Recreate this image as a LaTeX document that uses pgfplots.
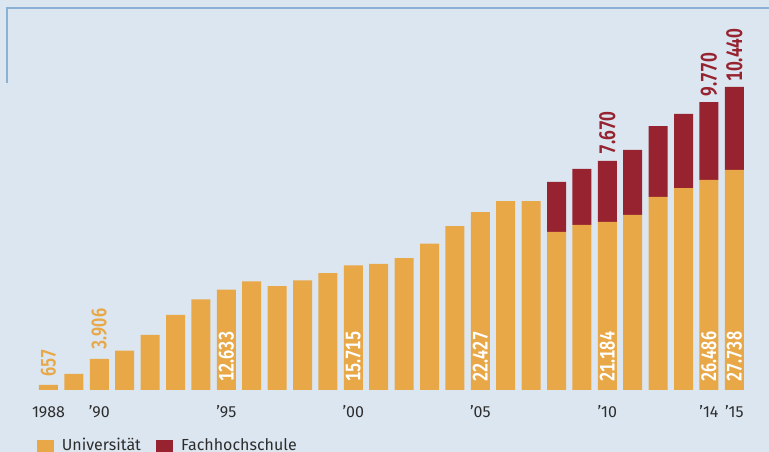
\documentclass[border=0pt]{standalone}
\usepackage{pgfplots}
\usepackage{pgfplotstable}
\pgfplotsset{compat=1.18}
\usepackage{fontspec}
\setmainfont{Fira Sans}
\newfontfamily\labfont[FakeStretch=0.78, Numbers=Monospaced, UprightFont={* SemiBold}]{Fira Sans}
\definecolor{bg}{RGB}{220,230,240}
\definecolor{uni}{RGB}{232,168,71}
\definecolor{fh}{RGB}{151,35,48}
\definecolor{framec}{RGB}{138,177,211}
\definecolor{txt}{RGB}{45,45,45}

\pgfplotstableread{
year uni fh
1988 657 0
1989 2016 0
1990 3906 0
1991 4950 0
1992 6930 0
1993 9450 0
1994 11430 0
1995 12633 0
1996 13700 0
1997 13100 0
1998 13820 0
1999 14740 0
2000 15715 0
2001 15880 0
2002 16630 0
2003 18430 0
2004 20660 0
2005 22427 0
2006 23810 0
2007 23810 0
2008 19910 6300
2009 20800 7050
2010 21184 7670
2011 22050 8190
2012 24320 8940
2013 25450 9330
2014 26486 9770
2015 27738 10440
}\datatable

\begin{document}
\begin{tikzpicture}
\begin{axis}[
  name=ax,
  scale only axis, width=769pt, height=452pt,
  xmin=1986.0906, xmax=2016.3662, ymin=-7812, ymax=49140,
  axis background/.style={fill=bg},
  axis line style={draw=none},
  ytick=\empty,
  xtick={1988,1990,1995,2000,2005,2010,2014,2015},
  xticklabels={1988,’90,’95,’00,’05,’10,’14,’15},
  major tick length=0pt,
  xticklabel style={anchor=base, yshift=34.5pt, font=\fontsize{16}{19}\selectfont, text=txt, inner sep=0pt},
  ybar stacked, bar width=0.748,
  clip=false,
]
\addplot[fill=uni, draw=none] table[x=year,y=uni]{\datatable};
\addplot[fill=fh, draw=none] table[x=year,y=fh]{\datatable};

% anchor points for the value labels
\coordinate (a88) at (axis cs:1988,657);
\coordinate (a90) at (axis cs:1990,3906);
\coordinate (b95) at (axis cs:1995,0);
\coordinate (b00) at (axis cs:2000,0);
\coordinate (b05) at (axis cs:2005,0);
\coordinate (b10) at (axis cs:2010,0);
\coordinate (b14) at (axis cs:2014,0);
\coordinate (b15) at (axis cs:2015,0);
\coordinate (t10) at (axis cs:2010,28854);
\coordinate (t14) at (axis cs:2014,36256);
\coordinate (t15) at (axis cs:2015,38178);

% frame lines
\draw[framec, line width=2pt] ([shift={(6.9pt,-82.7pt)}]rel axis cs:0,1) -- ([shift={(6.9pt,-7.8pt)}]rel axis cs:0,1) -- ([shift={(0pt,-7.8pt)}]rel axis cs:1,1);

% legend
\fill[uni] ([shift={(37pt,-5pt)}]rel axis cs:0,0) rectangle ([shift={(54pt,12pt)}]rel axis cs:0,0);
\node[anchor=base west, inner sep=0pt, font=\fontsize{16}{19}\selectfont, text=txt] at ([shift={(61.7pt,1.5pt)}]rel axis cs:0,0) {Universität};
\fill[fh] ([shift={(156pt,-5pt)}]rel axis cs:0,0) rectangle ([shift={(173pt,12pt)}]rel axis cs:0,0);
\node[anchor=base west, inner sep=0pt, font=\fontsize{16}{19}\selectfont, text=txt] at ([shift={(181pt,1.5pt)}]rel axis cs:0,0) {Fachhochschule};
\end{axis}
\tikzset{vlab/.style={rotate=90, anchor=west, inner sep=0pt, font=\labfont\fontsize{21}{21}\selectfont},
         vlabr/.style={vlab, font=\labfont\fontsize{22.5}{22.5}\selectfont}}
\node[vlab, text=uni] at ([yshift=8pt]a88) {657};
\node[vlab, text=uni] at ([yshift=9.5pt]a90) {3.906};
\node[vlab, text=white] at ([yshift=8.3pt]b95) {12.633};
\node[vlab, text=white] at ([yshift=8.3pt]b00) {15.715};
\node[vlab, text=white] at ([yshift=8.3pt]b05) {22.427};
\node[vlab, text=white] at ([yshift=8.3pt]b10) {21.184};
\node[vlab, text=white] at ([yshift=8.3pt]b14) {26.486};
\node[vlab, text=white] at ([yshift=8.3pt]b15) {27.738};
\node[vlabr, text=fh] at ([yshift=6pt]t10) {7.670};
\node[vlabr, text=fh] at ([yshift=6pt]t14) {9.770};
\node[vlabr, text=fh] at ([yshift=5pt]t15) {10.440};
\pgfresetboundingbox
\path[use as bounding box] (ax.south west) rectangle (ax.north east);
\end{tikzpicture}
\end{document}
